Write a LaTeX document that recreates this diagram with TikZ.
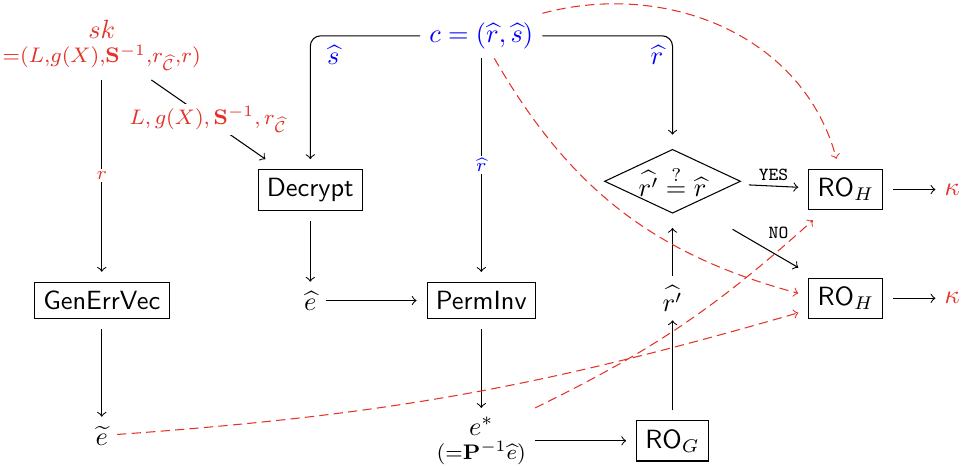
\documentclass[tikz,border=0pt]{standalone}
\usepackage{amsmath,amssymb}
\usetikzlibrary{shapes.geometric}
\definecolor{sred}{RGB}{228,50,40}

\begin{document}
\begin{tikzpicture}[
    box/.style={shape=rectangle,draw=black,outer sep=4pt,font=\sffamily},
    test/.style={shape=diamond,draw=black,aspect=2,inner sep=1pt,outer sep=4pt},
    lbl/.style={fill=white,inner sep=1pt,font=\scriptsize},
    reddash/.style={->,draw=sred,dash pattern=on 3.5pt off 2pt},
]
        \useasboundingbox (-0.007,0.007) rectangle (12.793,-6.246);

        \node[text=sred,align=center] (sk) at (1.35,-0.6) {$sk$\\[-3pt]{\footnotesize ${=}(L{,}g(X){,}\mathbf{S}^{-1}{,}r_{\widehat{\mathcal{C}}}{,}r)$}};
        \node[text=blue] (c) at (6.41,-0.47) {$c=(\widehat{r},\widehat{s})$};
        \node[box] (dec) at (4.13,-2.53) {Decrypt};
        \node[box] (gen) at (1.35,-4.0) {GenErrVec};
        \node (eh) at (4.13,-4.0) {$\widehat{e}$};
        \node[box] (perm) at (6.41,-4.0) {PermInv};
        \node (et) at (1.35,-5.8) {$\widetilde{e}$};
        \node[align=center] (es) at (6.41,-5.87) {$e^*$\\[-3pt]{\footnotesize $({=}\mathbf{P}^{-1}\widehat{e})$}};
        \node[box] (rog) at (8.96,-5.87) {RO$_G$};
        \node (rp) at (8.96,-3.97) {$\widehat{r'}$};
        \node[test] (chk) at (8.96,-2.41) {$\widehat{r'}\stackrel{?}{=}\widehat{r}$};
        \node[box] (roh1) at (11.27,-2.52) {RO$_H$};
        \node[box] (roh2) at (11.27,-3.97) {RO$_H$};
        \node[text=sred] (k1) at (12.69,-2.52) {$\kappa$};
        \node[text=sred] (k2) at (12.69,-3.97) {$\kappa$};
        \coordinate (nofrom) at (9.76,-3.05);

        \path [->] (sk) edge node[lbl,text=sred] {$r$} (gen);
        \path [->] (sk) edge node[fill=white,inner sep=1pt,text=sred,font=\footnotesize] {$L, g(X), \mathbf{S}^{-1}, r_{\widehat{\mathcal{C}}}$} (dec);
        \draw [->,rounded corners] (c.west) -| node[pos=0.5,below right,xshift=1mm,text=blue] {$\widehat{s}$} (dec.north);
        \draw [->,rounded corners] (c.east) -| node[pos=0.5,below left,text=blue] {$\widehat{r}$} (chk.north);
        \path [->] (c) edge node[lbl,text=blue] {$\widehat{r}$} (perm);
        \path [->] (dec) edge (eh);
        \path [->] (eh) edge (perm);
        \path [->] (gen) edge (et);
        \path [->] (perm) edge (es);
        \path [->] (es) edge (rog);
        \path [->] (rog) edge (rp);
        \path [->] (rp) edge (chk);
        \path [->] (chk) edge node[above,inner sep=2pt,font=\scriptsize\ttfamily] {YES} (roh1);
        \path [->] (nofrom) edge node[pos=0.7,above=3pt,font=\scriptsize\ttfamily] {NO} (roh2.north west);
        \path [->] (roh1) edge (k1);
        \path [->] (roh2) edge (k2);

        % hash inputs
        \draw [reddash] (c.north east) to[out=15,in=105] (roh1.107);
        \draw [reddash] (c.-60) to[out=-60,in=165] (roh2.174);
        \draw [reddash] (et) to[bend right=6] (roh2.197);
        \draw [reddash] (es.north east) to[bend right=8] (roh1.223);
    \end{tikzpicture}
\end{document}
